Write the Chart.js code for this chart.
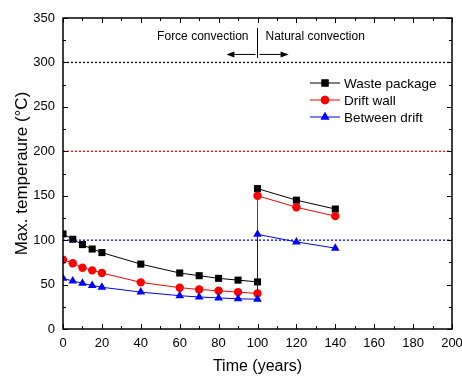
<!DOCTYPE html>
<html>
<head>
<meta charset="utf-8">
<script src="https://cdn.jsdelivr.net/npm/chart.js@4"></script>
<style>
  html, body { margin: 0; padding: 0; background: #fff; }
  canvas { display: block; }
</style>
</head>
<body>
<canvas id="chart" width="462" height="376"></canvas>
<script>
// values
const years = [0, 5, 10, 15, 20, 40, 60, 70, 80, 90, 100, 100, 120, 140]
const wastePackage = [107, 101, 95, 90, 86, 73, 63, 60, 57, 55, 53, 158, 145, 135]
const driftWall = [78, 74, 69, 66, 63, 52.5, 46.5, 44.5, 43, 41.5, 40, 150, 137, 127]
const betweenDrift = [57, 54, 51.5, 49, 47, 41.5, 37.5, 36, 35, 34, 33.5, 106.5, 98, 91]

const limitLevels = [300, 200, 100]
const limitColors = ["#000000", "#ff0000", "#0000ff"]

const xTicks = [0, 20, 40, 60, 80, 100, 120, 140, 160, 180, 200]
const yTicks = [0, 50, 100, 150, 200, 250, 300, 350]

const seriesNames = ["Waste package", "Drift wall", "Between drift"]

const FONT = "'Liberation Sans', Arial, sans-serif"

const toPoints = vals => vals.map((v, i) => ({x: years[i], y: v}))

// dotted limit lines, drawn as plain datasets across the whole x range
const limitSets = limitLevels.map((lvl, i) => ({
  label: "limit" + lvl,
  data: [{x: xTicks[0], y: lvl}, {x: xTicks[xTicks.length - 1], y: lvl}],
  borderColor: limitColors[i],
  borderWidth: 1.3,
  borderDash: [2, 2],
  pointRadius: 0,
  order: 5
}))

const series = [
  {label: seriesNames[0], data: toPoints(wastePackage), borderColor: "#000", backgroundColor: "#000",
   pointStyle: "rect", pointRadius: 5, order: 3},
  {label: seriesNames[1], data: toPoints(driftWall), borderColor: "#ff0000", backgroundColor: "#ff0000",
   pointStyle: "circle", pointRadius: 4.2, order: 2},
  {label: seriesNames[2], data: toPoints(betweenDrift), borderColor: "#0000ff", backgroundColor: "#0000ff",
   pointStyle: "triangle", pointRadius: 5, order: 1}
]
series.forEach(s => { s.borderWidth = 1; s.pointBorderWidth = 0; s.tension = 0 })

// frame with inward ticks on all four sides
const framePlugin = {
  id: "frame",
  afterDraw(chart) {
    const {ctx, chartArea: a, scales: {x, y}} = chart
    ctx.save()
    ctx.strokeStyle = "#000"
    ctx.lineWidth = 1.5
    ctx.strokeRect(a.left, a.top, a.right - a.left, a.bottom - a.top)
    ctx.lineWidth = 1
    ctx.beginPath()
    for (let v = 0; v <= 200; v += 10) {
      const px = Math.round(x.getPixelForValue(v)) + 0.5
      const len = v % 20 === 0 ? 5 : 3
      ctx.moveTo(px, a.bottom); ctx.lineTo(px, a.bottom - len)
      ctx.moveTo(px, a.top); ctx.lineTo(px, a.top + len)
    }
    for (let v = 0; v <= 350; v += 25) {
      const py = Math.round(y.getPixelForValue(v)) + 0.5
      const len = v % 50 === 0 ? 5 : 3
      ctx.moveTo(a.left, py); ctx.lineTo(a.left + len, py)
      ctx.moveTo(a.right, py); ctx.lineTo(a.right - len, py)
    }
    ctx.stroke()
    ctx.restore()
  }
}

// convection divider, arrows and labels
const dividerX = 100
const dividerTop = 339
const dividerBottom = 305
const arrowY = 309
const arrowLeftTo = 84
const arrowRightTo = 116

const notePlugin = {
  id: "notes",
  afterDatasetsDraw(chart) {
    const {ctx, scales: {x, y}} = chart
    const cx = x.getPixelForValue(dividerX)
    ctx.save()
    ctx.strokeStyle = "#000"
    ctx.fillStyle = "#000"
    ctx.lineWidth = 1
    ctx.beginPath()
    ctx.moveTo(cx, y.getPixelForValue(dividerTop))
    ctx.lineTo(cx, y.getPixelForValue(dividerBottom))
    const ay = y.getPixelForValue(arrowY)
    const lx = x.getPixelForValue(arrowLeftTo)
    const rx = x.getPixelForValue(arrowRightTo)
    ctx.moveTo(cx - 2, ay); ctx.lineTo(lx + 6, ay)
    ctx.moveTo(cx + 2, ay); ctx.lineTo(rx - 6, ay)
    ctx.stroke()
    ctx.beginPath()
    ctx.moveTo(lx, ay); ctx.lineTo(lx + 8, ay - 3); ctx.lineTo(lx + 8, ay + 3); ctx.closePath()
    ctx.moveTo(rx, ay); ctx.lineTo(rx - 8, ay - 3); ctx.lineTo(rx - 8, ay + 3); ctx.closePath()
    ctx.fill()

    ctx.font = "12px " + FONT
    ctx.textBaseline = "middle"
    const ty = y.getPixelForValue(dividerTop) + 9
    ctx.textAlign = "right"
    ctx.fillText("Force convection", cx - 9, ty)
    ctx.textAlign = "left"
    ctx.fillText("Natural convection", cx + 8, ty)

    // legend
    ctx.font = "13.5px " + FONT
    ctx.textAlign = "left"
    series.forEach((s, i) => {
      const ly = 83 + i * 17
      ctx.strokeStyle = s.borderColor
      ctx.beginPath()
      ctx.moveTo(310, ly); ctx.lineTo(340, ly)
      ctx.stroke()
      ctx.fillStyle = s.backgroundColor
      Chart.helpers.drawPoint(ctx, {pointStyle: s.pointStyle, radius: s.pointRadius, borderWidth: 0}, 325, ly)
      ctx.fill()
      ctx.fillStyle = "#000"
      ctx.fillText(s.label, 344, ly + 1)
    })
    ctx.restore()
  }
}

new Chart(document.getElementById("chart"), {
  type: "line",
  data: {datasets: [...series, ...limitSets]},
  options: {
    responsive: false,
    animation: false,
    layout: {padding: {top: 18, right: 10, left: 0, bottom: 0}},
    plugins: {legend: {display: false}, tooltip: {enabled: false}},
    scales: {
      x: {
        type: "linear", min: 0, max: 200,
        afterFit: s => { s.height = 47; s.paddingLeft = 0; s.paddingRight = 0 },
        afterBuildTicks: s => { s.ticks = xTicks.map(v => ({value: v})) },
        grid: {display: false, drawTicks: false}, border: {display: false},
        ticks: {font: {family: FONT, size: 13}, color: "#000", padding: 7, maxRotation: 0},
        title: {display: true, text: "Time (years)", font: {family: FONT, size: 16}, color: "#000", padding: {top: 7, bottom: 0}}
      },
      y: {
        min: 0, max: 350,
        afterFit: s => { s.width = 63; s.paddingTop = 0; s.paddingBottom = 0 },
        afterBuildTicks: s => { s.ticks = yTicks.map(v => ({value: v})) },
        grid: {display: false, drawTicks: false}, border: {display: false},
        ticks: {font: {family: FONT, size: 13}, color: "#000", padding: 8},
        title: {display: true, text: "Max. temperaure (°C)", font: {family: FONT, size: 17}, color: "#000", padding: {top: 12, bottom: 0}}
      }
    }
  },
  plugins: [framePlugin, notePlugin]
})
</script>
</body>
</html>
